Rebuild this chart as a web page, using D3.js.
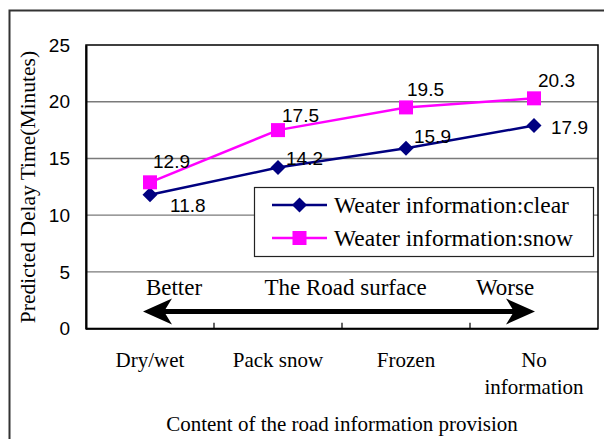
<!DOCTYPE html>
<html>
<head>
<meta charset="utf-8">
<script src="https://cdn.jsdelivr.net/npm/d3@7"></script>
<style>
  html, body { margin: 0; padding: 0; background: #fff; }
  svg { display: block; }
</style>
</head>
<body>
<svg id="chart" width="604" height="439"></svg>
<script>
// Road-surface information categories and predicted delay (minutes)
const categories = ["Dry/wet", "Pack snow", "Frozen", "No information"];
const categoryLines = [["Dry/wet"], ["Pack snow"], ["Frozen"], ["No", "information"]];
const clearValues = [11.8, 14.2, 15.9, 17.9];
const snowValues = [12.9, 17.5, 19.5, 20.3];
const yTicks = [0, 5, 10, 15, 20, 25];
const seriesNames = ["Weater information:clear", "Weater information:snow"];

// Hand-placed data label offsets (px from the marker)
const clearLabelOffsets = [[20, 10], [8, -9], [8, -12], [17, 2]];
const snowLabelOffsets = [[3, -21], [4, -15], [1, -18], [4, -18]];

const svg = d3.select("#chart");
const sans = "'Liberation Sans', Arial, sans-serif";
const serif = "'Liberation Serif', 'Times New Roman', serif";

const plot = { left: 86, right: 598, top: 45, bottom: 328.7 };

const x = d3.scaleBand().domain(categories).range([plot.left, plot.right]);
const y = d3.scaleLinear().domain([0, 25]).range([plot.bottom, plot.top]);
const cx = c => x(c) + x.bandwidth() / 2;

// Outer chart frame (right/bottom edges run off the canvas)
svg.append("rect")
  .attr("x", 9.5).attr("y", 10.5).attr("width", 620).attr("height", 460)
  .attr("fill", "none").attr("stroke", "#333").attr("stroke-width", 2);

// Gridlines
svg.append("g").selectAll("line")
  .data(yTicks.filter(t => t > 0 && t < 25))
  .join("line")
  .attr("x1", plot.left).attr("x2", plot.right)
  .attr("y1", d => y(d)).attr("y2", d => y(d))
  .attr("stroke", "#7a7a7a").attr("stroke-width", 1.3);

// Plot border
svg.append("rect")
  .attr("x", plot.left).attr("y", plot.top)
  .attr("width", plot.right - plot.left).attr("height", plot.bottom - plot.top)
  .attr("fill", "none").attr("stroke", "#000").attr("stroke-width", 1.5);

// Y axis
const yAxis = svg.append("g")
  .attr("transform", `translate(${plot.left},0)`)
  .call(d3.axisLeft(y).tickValues(yTicks).tickSize(0).tickPadding(16));
yAxis.select(".domain").attr("stroke", "#000").attr("stroke-width", 2);
yAxis.selectAll("text")
  .attr("font-family", sans).attr("font-size", 19).attr("fill", "#000");

// X axis baseline and inner tick marks between categories
svg.append("line")
  .attr("x1", plot.left).attr("x2", plot.right)
  .attr("y1", plot.bottom).attr("y2", plot.bottom)
  .attr("stroke", "#000").attr("stroke-width", 2);
svg.append("g").selectAll("line")
  .data(categories.slice(1))
  .join("line")
  .attr("x1", d => x(d)).attr("x2", d => x(d))
  .attr("y1", plot.bottom).attr("y2", plot.bottom - 6)
  .attr("stroke", "#000").attr("stroke-width", 1.2);

// Category labels
const catText = svg.append("g").selectAll("text")
  .data(categories)
  .join("text")
  .attr("x", d => cx(d)).attr("y", 367)
  .attr("text-anchor", "middle")
  .attr("font-family", serif).attr("font-size", 21).attr("fill", "#000");
catText.each(function(d, i) {
  d3.select(this).selectAll("tspan")
    .data(categoryLines[i])
    .join("tspan")
    .attr("x", cx(d))
    .attr("dy", (t, j) => j === 0 ? 0 : 27)
    .text(t => t);
});

// Axis titles
svg.append("text")
  .attr("x", 342).attr("y", 431)
  .attr("text-anchor", "middle")
  .attr("font-family", serif).attr("font-size", 21)
  .text("Content of the road information provision");
svg.append("text")
  .attr("transform", "translate(35,187) rotate(-90)")
  .attr("text-anchor", "middle")
  .attr("font-family", serif).attr("font-size", 21.5)
  .text("Predicted Delay Time(Minutes)");

// Road-surface double arrow with annotations
const arrowY = 311.5;
const arrowLeft = 143, arrowRight = 535;
svg.append("line")
  .attr("x1", arrowLeft + 20).attr("x2", arrowRight - 20)
  .attr("y1", arrowY).attr("y2", arrowY)
  .attr("stroke", "#000").attr("stroke-width", 5);
const head = (tip, dir) => {
  const back = tip + dir * 29, notch = tip + dir * 21;
  return `M${tip},${arrowY} L${back},${arrowY - 13} L${notch},${arrowY} L${back},${arrowY + 13} Z`;
};
svg.append("path").attr("d", head(arrowLeft, 1)).attr("fill", "#000");
svg.append("path").attr("d", head(arrowRight, -1)).attr("fill", "#000");
[["Better", 174], ["The Road surface", 345.5], ["Worse", 505]].forEach(([t, px]) => {
  svg.append("text")
    .attr("x", px).attr("y", 295)
    .attr("text-anchor", "middle")
    .attr("font-family", serif).attr("font-size", 23)
    .text(t);
});

// Series lines and markers
const line = d3.line().x((d, i) => cx(categories[i])).y(d => y(d));
const series = [
  { values: clearValues, color: "#000080", shape: "diamond", offsets: clearLabelOffsets },
  { values: snowValues, color: "#ff00ff", shape: "square", offsets: snowLabelOffsets }
];
const marker = (sel, shape, color) => {
  if (shape === "diamond") {
    sel.append("path").attr("d", "M0,-7.5 L7.5,0 L0,7.5 L-7.5,0 Z").attr("fill", color);
  } else {
    sel.append("rect").attr("x", -7).attr("y", -7).attr("width", 14).attr("height", 14).attr("fill", color);
  }
};

series.forEach(s => {
  svg.append("path")
    .datum(s.values)
    .attr("d", line)
    .attr("fill", "none")
    .attr("stroke", s.color).attr("stroke-width", 2.5);
});
series.forEach(s => {
  s.values.forEach((v, i) => {
    const g = svg.append("g").attr("transform", `translate(${cx(categories[i])},${y(v)})`);
    marker(g, s.shape, s.color);
  });
});
series.forEach(s => {
  svg.append("g").selectAll("text")
    .data(s.values)
    .join("text")
    .attr("x", (v, i) => cx(categories[i]) + s.offsets[i][0])
    .attr("y", (v, i) => y(v) + s.offsets[i][1])
    .attr("dy", "0.36em")
    .attr("font-family", sans).attr("font-size", 19).attr("fill", "#000")
    .text(v => v.toFixed(1));
});

// Legend
const legend = svg.append("g");
legend.append("rect")
  .attr("x", 254.5).attr("y", 187.5).attr("width", 339).attr("height", 69)
  .attr("fill", "#fff").attr("stroke", "#222").attr("stroke-width", 1.2);
series.forEach((s, i) => {
  const ly = 205 + i * 33;
  legend.append("line")
    .attr("x1", 272).attr("x2", 327).attr("y1", ly).attr("y2", ly)
    .attr("stroke", s.color).attr("stroke-width", 2.5);
  const g = legend.append("g").attr("transform", `translate(299.5,${ly})`);
  marker(g, s.shape, s.color);
  legend.append("text")
    .attr("x", 334).attr("y", ly + 8)
    .attr("font-family", serif).attr("font-size", 23.5)
    .text(seriesNames[i]);
});
</script>
</body>
</html>
